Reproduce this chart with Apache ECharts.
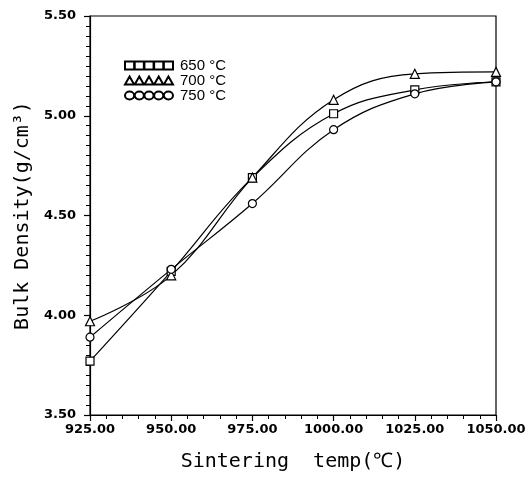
<!DOCTYPE html>
<html>
<head>
<meta charset="utf-8">
<script src="https://cdn.jsdelivr.net/npm/echarts@6/dist/echarts.min.js"></script>
<style>
  html, body { margin: 0; padding: 0; background: #fff; }
  #chart { width: 532px; height: 479px; }
</style>
</head>
<body>
<div id="chart"></div>
<script>
// sintering temperature (C) and bulk density (g/cm3)
const temps = [925, 950, 975, 1000, 1025, 1050];
const density650 = [3.77, 4.22, 4.69, 5.01, 5.13, 5.17];
const density700 = [3.97, 4.20, 4.69, 5.08, 5.21, 5.22];
const density750 = [3.89, 4.23, 4.56, 4.93, 5.11, 5.17];
const seriesNames = ['650 °C', '700 °C', '750 °C'];

const chart = echarts.init(document.getElementById('chart'));

// legend icons: a row of five open markers, like the original
const iconSquares = 'path://M0,1h8v7h-8z M8.5,1h8v7h-8z M17,1h8v7h-8z M25.5,1h8v7h-8z M34,1h8v7h-8z';
const iconTriangles = 'path://M0,8L4,1L8,8Z M8.5,8L12.5,1L16.5,8Z M17,8L21,1L25,8Z M25.5,8L29.5,1L33.5,8Z M34,8L38,1L42,8Z';
const iconCircles = 'path://M0,4.5a4,3.5 0 1,0 8,0a4,3.5 0 1,0 -8,0z M8.5,4.5a4,3.5 0 1,0 8,0a4,3.5 0 1,0 -8,0z M17,4.5a4,3.5 0 1,0 8,0a4,3.5 0 1,0 -8,0z M25.5,4.5a4,3.5 0 1,0 8,0a4,3.5 0 1,0 -8,0z M34,4.5a4,3.5 0 1,0 8,0a4,3.5 0 1,0 -8,0z';

const toPairs = (vals) => temps.map((t, i) => [t, vals[i]]);

const makeSeries = (name, vals, symbol) => ({
  name: name,
  type: 'line',
  data: toPairs(vals),
  smooth: 0.4,
  symbol: symbol,
  symbolSize: symbol === 'triangle' ? 9 : 8,
  showSymbol: true,
  lineStyle: { color: '#000', width: 1.2 },
  itemStyle: { color: '#fff', borderColor: '#000', borderWidth: 1.2 },
  emphasis: { disabled: true },
  z: 3
});

const option = {
  backgroundColor: '#fff',
  animation: false,
  textStyle: { fontFamily: 'DejaVu Sans, sans-serif' },
  grid: { left: 90, right: 36, top: 16, bottom: 64, show: true, borderColor: '#000', borderWidth: 1.2 },
  legend: {
    orient: 'vertical',
    left: 124,
    top: 58,
    padding: 0,
    itemWidth: 48,
    itemHeight: 10,
    itemGap: 0,
    textStyle: { color: '#000', fontSize: 15, lineHeight: 15, fontFamily: 'Liberation Sans, sans-serif', padding: [0, 0, 0, 2] },
    data: [
      { name: seriesNames[0], icon: iconSquares },
      { name: seriesNames[1], icon: iconTriangles },
      { name: seriesNames[2], icon: iconCircles }
    ]
  },
  xAxis: {
    type: 'value',
    min: 925,
    max: 1050,
    interval: 25,
    name: 'Sintering  temp(℃)',
    nameLocation: 'middle',
    nameGap: 37,
    nameTextStyle: { color: '#000', fontSize: 20, fontFamily: 'DejaVu Sans Mono, monospace' },
    axisLine: { lineStyle: { color: '#000', width: 1.2 } },
    axisTick: { length: 6, lineStyle: { color: '#000', width: 1.2 } },
    minorTick: { show: true, splitNumber: 5, length: 4, lineStyle: { color: '#000', width: 1 } },
    splitLine: { show: false },
    axisLabel: { color: '#000', fontSize: 13, fontFamily: 'DejaVu Sans, sans-serif', fontWeight: 'bold', margin: 8, formatter: (v) => v.toFixed(2) }
  },
  yAxis: {
    type: 'value',
    min: 3.5,
    max: 5.5,
    interval: 0.5,
    name: 'Bulk Density(g/cm³)',
    nameLocation: 'middle',
    nameGap: 46,
    nameTextStyle: { color: '#000', fontSize: 20, fontFamily: 'DejaVu Sans Mono, monospace' },
    axisLine: { lineStyle: { color: '#000', width: 1.2 } },
    axisTick: { length: 6, lineStyle: { color: '#000', width: 1.2 } },
    minorTick: { show: true, splitNumber: 10, length: 4, lineStyle: { color: '#000', width: 1 } },
    splitLine: { show: false },
    axisLabel: { color: '#000', fontSize: 13, fontFamily: 'DejaVu Sans, sans-serif', fontWeight: 'bold', margin: 14, formatter: (v) => v.toFixed(2) }
  },
  series: [
    makeSeries(seriesNames[0], density650, 'rect'),
    makeSeries(seriesNames[1], density700, 'triangle'),
    makeSeries(seriesNames[2], density750, 'circle')
  ]
};

chart.setOption(option);
</script>
</body>
</html>
